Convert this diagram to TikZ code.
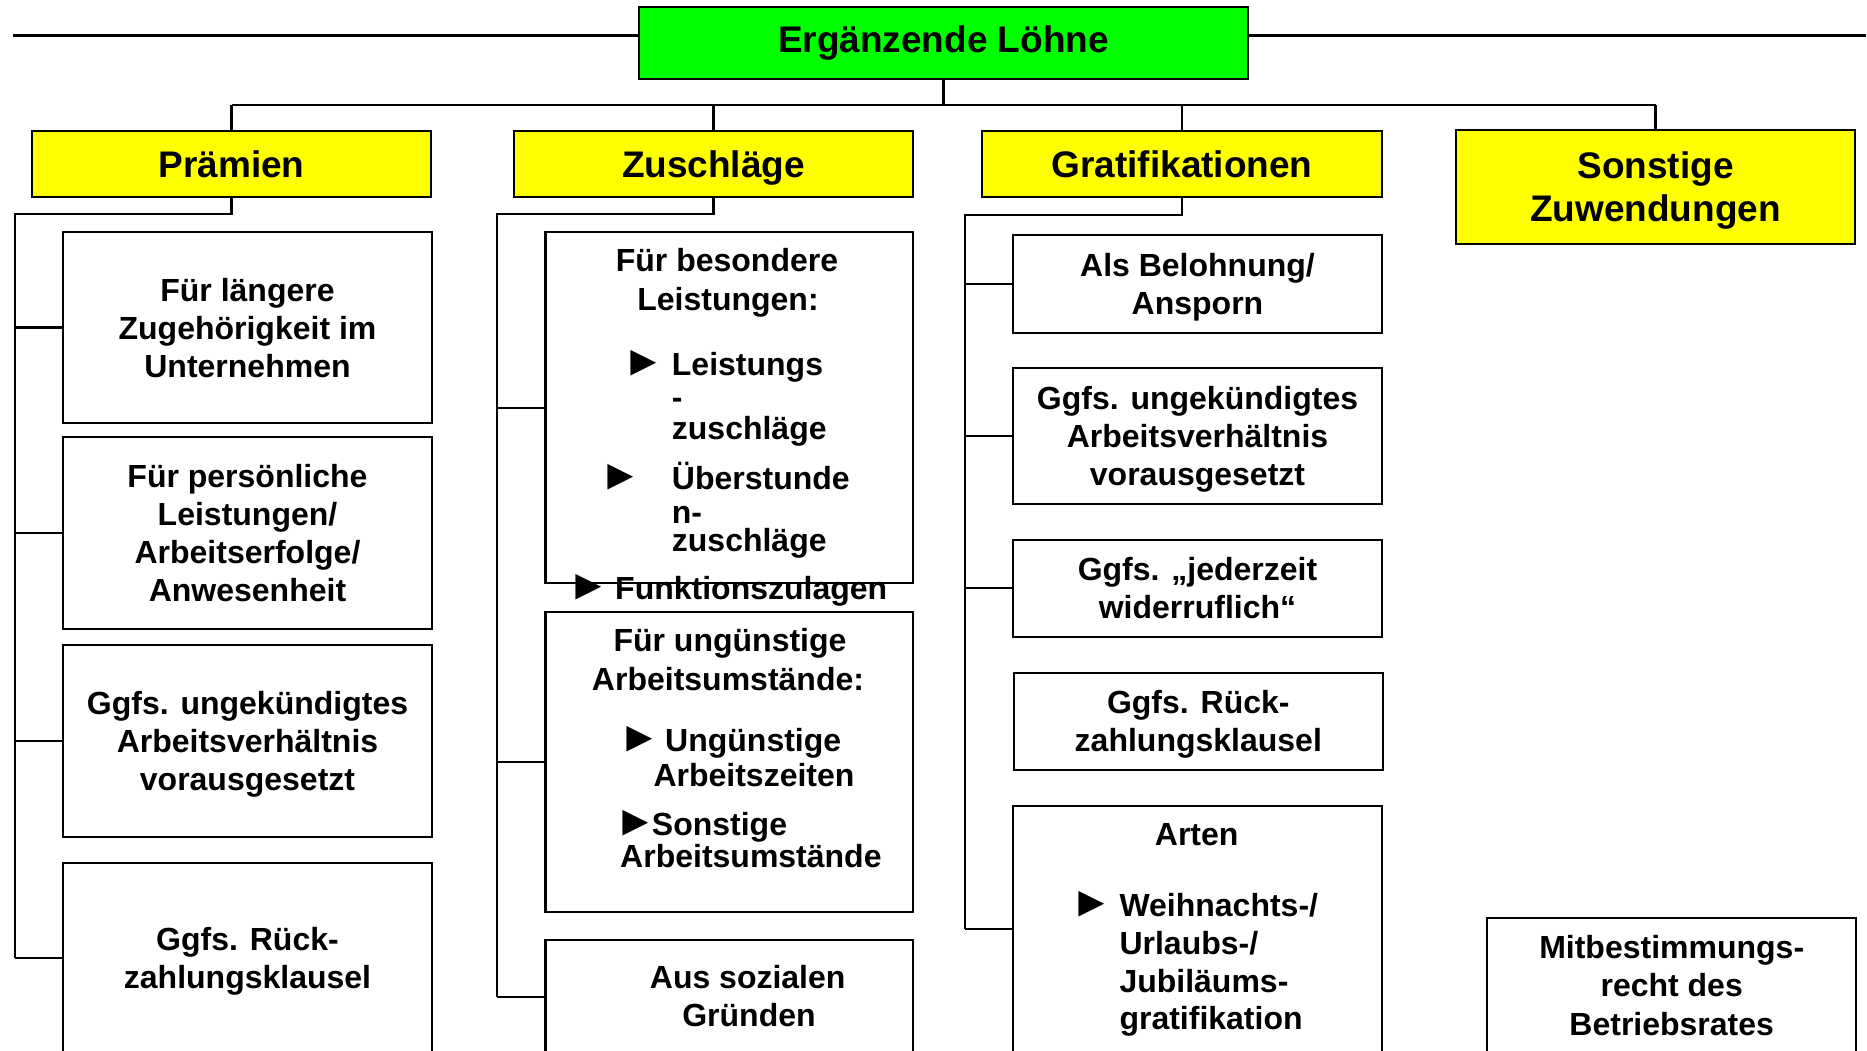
\documentclass[tikz,border=0pt]{standalone}
\usepackage{fontspec}
\setmainfont{Liberation Sans}
\definecolor{hyellow}{RGB}{255,255,0}
\definecolor{hgreen}{RGB}{0,255,0}
\tikzset{
  ebox/.style={draw=black, line width=2.2pt, fill=white, inner sep=0pt, align=center, text depth=0pt,
    font=\fontsize{32}{38}\selectfont\bfseries},
  hbox/.style={draw=black, line width=2.2pt, fill=hyellow, inner sep=0pt, align=center, text depth=0pt,
    font=\fontsize{37}{43}\selectfont\bfseries},
  conn/.style={line width=2.2pt},
  tx/.style={inner sep=0pt, font=\fontsize{32}{38}\selectfont\bfseries},
  tri/.style={inner sep=0pt, font=\fontsize{43}{43}\selectfont\bfseries},
}
\begin{document}
\begin{tikzpicture}[x=1pt,y=-1pt]
\useasboundingbox (0,0) rectangle (1867,1050);
\clip (0,0) rectangle (1867,1050);
\fill[white] (0,0) rectangle (1867,1050);

% root and headers
\node[hbox, fill=hgreen, text depth=8pt, minimum width=609pt, minimum height=72pt] (root) at (943.5,43) {Ergänzende Löhne};
\node[hbox, minimum width=399pt, minimum height=66.6pt] (h1) at (231.5,164) {Prämien};
\node[hbox, minimum width=399pt, minimum height=66.6pt] (h2) at (713.5,164) {Zuschläge};
\node[hbox, minimum width=400pt, minimum height=66.6pt] (h3) at (1182,164) {Gratifikationen};
\node[hbox, minimum width=399pt, minimum height=114pt] (h4) at (1655.5,187) {Sonstige\\Zuwendungen};

\coordinate (tl) at (13,35.5);
\coordinate (tr) at (1866,35.5);
\draw[conn] (tl) -- (tl -| root.west);
\draw[conn] (tr) -- (tr -| root.east);

\coordinate (bus) at (943.5,105);
\draw[conn] (root.south) -- (bus);
\draw[conn] (h1.north |- bus) -- (h4.north |- bus);
\foreach \n in {h1,h2,h3,h4} \draw[conn] (\n.north) -- (\n.north |- bus);

% column 1
\node[ebox, minimum width=369pt, minimum height=191.6pt] (p1) at (247.5,327.5) {Für längere\\Zugehörigkeit im\\Unternehmen};
\node[ebox, minimum width=369pt, minimum height=191.7pt] (p2) at (247.5,533.2) {Für persönliche\\Leistungen/\\Arbeitserfolge/\\Anwesenheit};
\node[ebox, minimum width=369pt, minimum height=192pt] (p3) at (247.5,741) {Ggfs. ungekündigtes\\Arbeitsverhältnis\\vorausgesetzt};
\node[ebox, minimum width=369pt, minimum height=190.6pt] (p4) at (247.5,958) {Ggfs. Rück-\\zahlungsklausel};
\coordinate (c1) at (15,214);
\draw[conn] (h1.south) |- (c1) -- (c1 |- p4.west);
\foreach \n in {p1,p2,p3,p4} \draw[conn] (c1 |- \n.west) -- (\n.west);

% column 2
\node[ebox, minimum width=367.8pt, minimum height=351pt] (z1) at (729.4,407.8) {};
\node[ebox, minimum width=367.8pt, minimum height=299.4pt] (z2) at (729.4,762) {};
\node[ebox, minimum width=367.8pt, minimum height=113.4pt] (z3) at (729.4,996.7) {};
\coordinate (c2) at (496.7,214);
\draw[conn] (h2.south) |- (c2) -- (c2 |- z3.west);
\foreach \n in {z1,z2,z3} \draw[conn] (c2 |- \n.west) -- (\n.west);

\node[tx, anchor=base] (z1a) at (727,271.7) {Für besondere};
\node[tx, anchor=base] (z1b) at (728,310) {Leistungen:};
\node[tri, anchor=base west] (z1c) at (622.2,375.7) {►};
\node[tx, anchor=base west] (z1d) at (671.7,375.7) {Leistungs};
\node[tx, anchor=base west] (z1e) at (671.7,408) {-};
\node[tx, anchor=base west] (z1f) at (671.7,439.3) {zuschläge};
\node[tri, anchor=base west] (z1g) at (598.8,489.3) {►};
\node[tx, anchor=base west] (z1h) at (671.7,489.3) {Überstunde};
\node[tx, anchor=base west] (z1i) at (671.7,523.3) {n-};
\node[tx, anchor=base west] (z1j) at (671.7,551) {zuschläge};
\node[tri, anchor=base west] (z1k) at (567.2,599) {►};
\node[tx, anchor=base west] (z1l) at (615,599) {Funktionszulagen};

\node[tx, anchor=base] (z2a) at (730,651.7) {Für ungünstige};
\node[tx, anchor=base] (z2b) at (728,690) {Arbeitsumstände:};
\node[tri, anchor=base west] (z2c) at (618.2,751.7) {►};
\node[tx, anchor=base west] (z2d) at (665,751.7) {Ungünstige};
\node[tx, anchor=base west] (z2e) at (653.3,786) {Arbeitszeiten};
\node[tri, anchor=base west] (z2f) at (613.8,835) {►};
\node[tx, anchor=base west] (z2g) at (651.7,835) {Sonstige};
\node[tx, anchor=base west] (z2h) at (620,867.3) {Arbeitsumstände};

\node[tx, anchor=base] (z3a) at (747.7,988.3) {Aus sozialen};
\node[tx, anchor=base] (z3b) at (749,1026.7) {Gründen};

% column 3
\node[ebox, minimum width=368.4pt, minimum height=98.3pt] (g1) at (1197.5,284.2) {Als Belohnung/\\Ansporn};
\node[ebox, minimum width=368.4pt, minimum height=135.7pt] (g2) at (1197.5,436.2) {Ggfs. ungekündigtes\\Arbeitsverhältnis\\vorausgesetzt};
\node[ebox, minimum width=368.4pt, minimum height=96.7pt] (g3) at (1197.5,588.3) {Ggfs. „jederzeit\\widerruflich“};
\node[ebox, minimum width=368.7pt, minimum height=97.3pt] (g4) at (1198.3,721.3) {Ggfs. Rück-\\zahlungsklausel};
\node[ebox, minimum width=368.4pt, minimum height=247.3pt] (g5) at (1197.5,929.3) {};
\coordinate (c3) at (965,215);
\draw[conn] (h3.south) |- (c3) -- (c3 |- g5.west);
\foreach \n in {g1,g2,g3,g5} \draw[conn] (c3 |- \n.west) -- (\n.west);

\node[tx, anchor=base] (g5a) at (1196.7,845) {Arten};
\node[tri, anchor=base west] (g5b) at (1070.5,916) {►};
\node[tx, anchor=base west] (g5c) at (1119.3,916) {Weihnachts-/};
\node[tx, anchor=base west] (g5d) at (1119.3,954.5) {Urlaubs-/};
\node[tx, anchor=base west] (g5e) at (1119.3,992.5) {Jubiläums-};
\node[tx, anchor=base west] (g5f) at (1119.3,1029.5) {gratifikation};

% column 4
\node[ebox, minimum width=368.4pt, minimum height=201.4pt] (m1) at (1671.5,1019) {};
\node[tx, anchor=base] (m1a) at (1671.7,958.3) {Mitbestimmungs-};
\node[tx, anchor=base] (m1b) at (1671.7,996.7) {recht des};
\node[tx, anchor=base] (m1c) at (1671.7,1035) {Betriebsrates};
\end{tikzpicture}
\end{document}
